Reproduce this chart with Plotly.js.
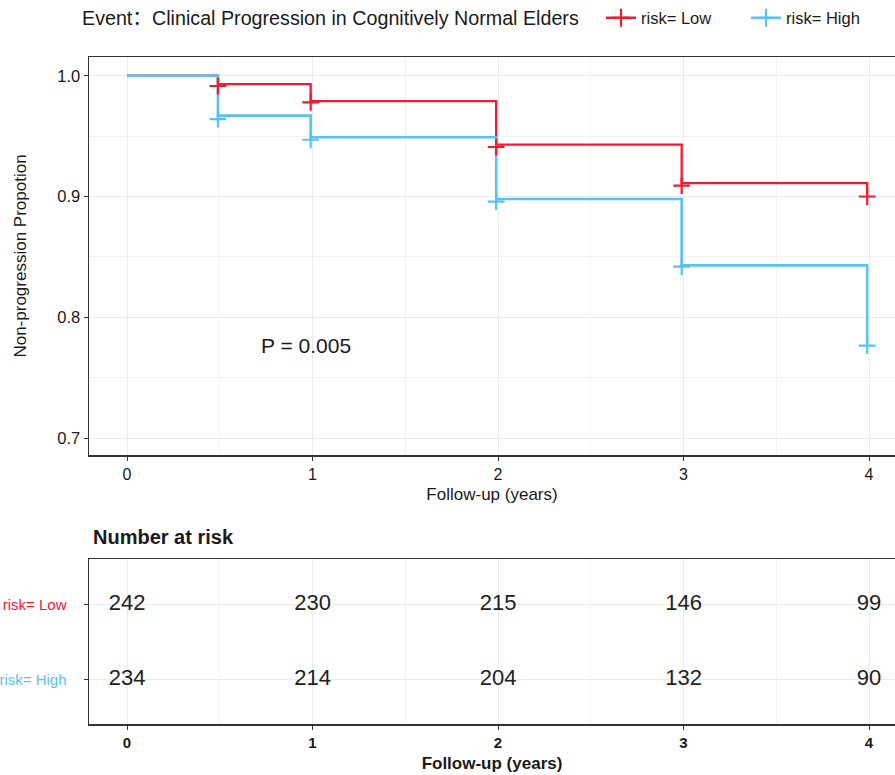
<!DOCTYPE html>
<html>
<head>
<meta charset="utf-8">
<script src="https://cdn.plot.ly/plotly-3.0.1.min.js"></script>
<style>html,body{margin:0;padding:0;background:#fff;}#chart{width:895px;height:775px;}</style>
</head>
<body>
<div id="chart"></div>
<script>
// ---- data ----
const groups = ['risk= Low', 'risk= High'];
const times = [0, 0.49, 0.99, 1.99, 2.99, 3.99];
const survLow = [1.0, 0.993, 0.979, 0.943, 0.911, 0.900];
const survHigh = [1.0, 0.967, 0.949, 0.898, 0.843, 0.7765];
const censorTimes = [0.49, 0.99, 1.99, 2.99, 3.99];
const censorLow = [0.9915, 0.978, 0.941, 0.909, 0.900];
const censorHigh = [0.964, 0.947, 0.8957, 0.842, 0.7765];
const riskTimes = [0, 1, 2, 3, 4];
const riskLow = [242, 230, 215, 146, 99];
const riskHigh = [234, 214, 204, 132, 90];
const xTicks = [0, 1, 2, 3, 4];
const yTicks = [0.7, 0.8, 0.9, 1.0];
const pValueText = 'P = 0.005';
const legendTitle = 'Event\uFF1AClinical Progression in Cognitively Normal Elders';

const RED = '#F21A31', BLUE = '#5BC2EE';
const FONT = 'Liberation Sans, Arial, Noto Sans CJK SC, sans-serif';
const INK = '#1a1a1a';
const MS = 12;

const traces = [
  // survival step lines
  {x: times, y: survLow, type: 'scatter', mode: 'lines', showlegend: false,
   line: {shape: 'hv', color: RED, width: 2.3}, xaxis: 'x', yaxis: 'y', hoverinfo: 'skip'},
  {x: times, y: survHigh, type: 'scatter', mode: 'lines', showlegend: false,
   line: {shape: 'hv', color: BLUE, width: 2.6}, xaxis: 'x', yaxis: 'y', hoverinfo: 'skip'},
  // censor marks
  {x: censorTimes, y: censorLow, type: 'scatter', mode: 'markers', showlegend: false,
   marker: {symbol: 'cross-thin', size: MS, color: RED, line: {color: RED, width: 2.2}},
   xaxis: 'x', yaxis: 'y', hoverinfo: 'skip'},
  {x: censorTimes, y: censorHigh, type: 'scatter', mode: 'markers', showlegend: false,
   marker: {symbol: 'cross-thin', size: MS, color: BLUE, line: {color: BLUE, width: 2.2}},
   xaxis: 'x', yaxis: 'y', hoverinfo: 'skip'},
  // legend entries (line + cross key)
  {x: [null], y: [null], type: 'scatter', mode: 'lines+markers', name: groups[0], legend: 'legend',
   line: {color: RED, width: 2.3},
   marker: {symbol: 'cross-thin', size: 13, color: RED, line: {color: RED, width: 2.2}},
   xaxis: 'x', yaxis: 'y', hoverinfo: 'skip'},
  {x: [null], y: [null], type: 'scatter', mode: 'lines+markers', name: groups[1], legend: 'legend2',
   line: {color: BLUE, width: 2.3},
   marker: {symbol: 'cross-thin', size: 13, color: BLUE, line: {color: BLUE, width: 2.2}},
   xaxis: 'x', yaxis: 'y', hoverinfo: 'skip'},
  // risk table
  {x: riskTimes, y: riskTimes.map(() => 2), text: riskLow.map(String), type: 'scatter', mode: 'text',
   showlegend: false, textfont: {family: FONT, size: 22, color: '#222'}, textposition: 'middle center',
   xaxis: 'x2', yaxis: 'y2', hoverinfo: 'skip'},
  {x: riskTimes, y: riskTimes.map(() => 1), text: riskHigh.map(String), type: 'scatter', mode: 'text',
   showlegend: false, textfont: {family: FONT, size: 22, color: '#222'}, textposition: 'middle center',
   xaxis: 'x2', yaxis: 'y2', hoverinfo: 'skip'}
];

const W = 895, H = 775, PW = 806, ML = 89;
const xRange = [-0.205, 4.14];
const commonX = {
  range: xRange, tickvals: xTicks, ticktext: xTicks.map(String),
  showgrid: true, gridcolor: '#ebebeb', gridwidth: 1,
  minor: {dtick: 0.5, tick0: 0, showgrid: true, gridcolor: '#f2f2f2', gridwidth: 1},
  zeroline: false, showline: true, linecolor: '#333', linewidth: 1.5, mirror: true,
  ticks: 'outside', ticklen: 4, tickcolor: '#333', tickwidth: 1,
  automargin: false, fixedrange: true
};
const legendBase = {
  orientation: 'h', xref: 'paper', yref: 'paper',
  y: (H - 18) / H, xanchor: 'left', yanchor: 'middle',
  font: {family: FONT, size: 16.5, color: INK},
  bgcolor: 'rgba(0,0,0,0)', borderwidth: 0
};

const layout = {
  width: W, height: H,
  margin: {l: ML, r: 0, t: 0, b: 0},
  paper_bgcolor: '#fff', plot_bgcolor: '#fff',
  font: {family: FONT, color: INK},
  showlegend: true,
  legend: Object.assign({}, legendBase, {x: (601 - ML) / PW}),
  legend2: Object.assign({}, legendBase, {x: (746 - ML) / PW}),
  xaxis: Object.assign({}, commonX, {
    domain: [0, 1], anchor: 'y',
    tickfont: {family: FONT, size: 16, color: INK},
    title: {text: 'Follow-up (years)', font: {family: FONT, size: 17, color: INK}, standoff: 6}
  }),
  yaxis: {
    domain: [1 - 455 / H, 1 - 57 / H], anchor: 'x',
    range: [0.686, 1.0155], tickvals: yTicks, tickformat: '.1f',
    showgrid: true, gridcolor: '#ebebeb', gridwidth: 1,
    minor: {dtick: 0.05, tick0: 0.7, showgrid: true, gridcolor: '#f2f2f2', gridwidth: 1},
    zeroline: false, showline: true, linecolor: '#333', linewidth: 1.5, mirror: false,
    ticks: 'outside', ticklen: 4, tickcolor: '#333', tickwidth: 1,
    tickfont: {family: FONT, size: 16.5, color: INK},
    title: {text: 'Non-progression Propotion', font: {family: FONT, size: 17, color: INK}, standoff: 26},
    automargin: false, fixedrange: true
  },
  xaxis2: Object.assign({}, commonX, {
    domain: [0, 1], anchor: 'y2',
    tickfont: {family: FONT, size: 15, color: INK, weight: 'bold'},
    title: {text: 'Follow-up (years)', font: {family: FONT, size: 17, color: INK, weight: 'bold'}, standoff: 7}
  }),
  yaxis2: {
    domain: [1 - 724.3 / H, 1 - 559.3 / H], anchor: 'x2',
    range: [0.4, 2.6], tickvals: [2, 1],
    ticktext: ['<span style="color:' + RED + '">' + groups[0] + '</span>',
               '<span style="color:' + BLUE + '">' + groups[1] + '</span>'],
    showgrid: true, gridcolor: '#ebebeb', gridwidth: 1,
    zeroline: false, showline: true, linecolor: '#333', linewidth: 1.5, mirror: false,
    ticks: 'outside', ticklen: 4, tickcolor: '#333', tickwidth: 1,
    tickfont: {family: FONT, size: 15},
    ticklabelstandoff: 14,
    automargin: false, fixedrange: true
  },
  annotations: [
    {text: legendTitle, x: (80 - ML) / PW, y: (H - 18) / H, xref: 'paper', yref: 'paper',
     showarrow: false, xanchor: 'left', yanchor: 'middle', font: {family: FONT, size: 19.7, color: INK}},
    {text: pValueText, x: 0.965, y: 0.777, xref: 'x', yref: 'y', showarrow: false,
     font: {family: FONT, size: 21, color: INK}, xanchor: 'center', yanchor: 'middle'},
    {text: '<b>Number at risk</b>', x: 2 / PW, y: (H - 537) / H, xref: 'paper', yref: 'paper',
     showarrow: false, xanchor: 'left', yanchor: 'middle', font: {family: FONT, size: 20, color: INK}}
  ]
};

Plotly.newPlot('chart', traces, layout, {staticPlot: true, displayModeBar: false});
</script>
</body>
</html>
